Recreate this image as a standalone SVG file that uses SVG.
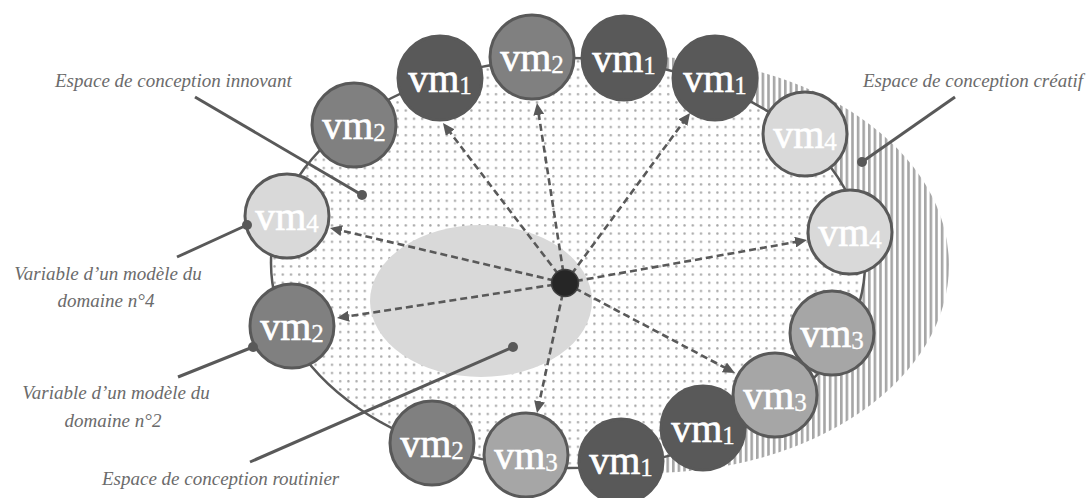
<svg xmlns="http://www.w3.org/2000/svg" width="1088" height="498" viewBox="0 0 1088 498">
<style>
.lbl{font-family:"Liberation Serif",serif;font-style:italic;font-size:19px;fill:#6b6b6b}
.vm{font-family:"Liberation Serif",serif;font-size:40px;fill:#ffffff;stroke:#ffffff;stroke-width:0.7;text-anchor:middle}
.sub{font-size:25px;stroke-width:0.3}
.nd{stroke:#595959;stroke-width:3}
.v1{fill:#595959}
.v2{fill:#808080}
.v3{fill:#a6a6a6}
.v4{fill:#d9d9d9}
.lead{stroke:#595959;stroke-width:3;fill:none}
.dot{fill:#595959}
.arr{stroke:#595959;stroke-width:2.6;stroke-dasharray:7 4;fill:none;marker-end:url(#ah)}
</style>
<defs>
<pattern id="dots" patternUnits="userSpaceOnUse" width="8.2" height="8.2">
<rect width="8.2" height="8.2" fill="#ffffff"/>
<circle cx="4" cy="4" r="1.2" fill="#a8a8a8"/>
</pattern>
<pattern id="stripes" patternUnits="userSpaceOnUse" width="5.6" height="10">
<rect width="5.6" height="10" fill="#ffffff"/>
<rect width="2.6" height="10" fill="#a6a6a6"/>
</pattern>
<marker id="ah" markerUnits="userSpaceOnUse" markerWidth="12" markerHeight="11" refX="4" refY="5.5" orient="auto">
<path d="M0,0 L12,5.5 L0,11 z" fill="#595959"/>
</marker>
</defs>

<g id="spaces">
<ellipse id="creatif" cx="648" cy="265" rx="301" ry="208" fill="url(#stripes)"/>
<ellipse id="innovant" cx="568" cy="263" rx="297" ry="205" fill="url(#dots)"/>
<ellipse id="routinier" cx="481" cy="301" rx="111" ry="76" fill="#d9d9d9"/>
<ellipse cx="568" cy="263" rx="297" ry="205" fill="none" stroke="#595959" stroke-width="2.5"/>
</g>

<g id="connectors">
<line class="arr" x1="565" y1="283" x2="447.8" y2="129.4"/>
<line class="arr" x1="565" y1="283" x2="538.2" y2="110.9"/>
<line class="arr" x1="565" y1="283" x2="685.3" y2="119.4"/>
<line class="arr" x1="565" y1="283" x2="799.1" y2="241.4"/>
<line class="arr" x1="565" y1="283" x2="727.9" y2="369.3"/>
<line class="arr" x1="565" y1="283" x2="538.7" y2="405.2"/>
<line class="arr" x1="565" y1="283" x2="344.9" y2="316.8"/>
<line class="arr" x1="565" y1="283" x2="337.8" y2="229.8"/>
</g>

<g id="centre"><circle cx="565" cy="283" r="13.5" fill="#262626" stroke="#404040" stroke-width="1.5"/></g>

<g id="n1"><circle class="nd v2" cx="354" cy="125" r="42"/><text class="vm" x="354" y="139">vm<tspan class="sub" dy="2">2</tspan></text></g>
<g id="n2"><circle class="nd v1" cx="440" cy="78" r="42"/><text class="vm" x="440" y="92">vm<tspan class="sub" dy="2">1</tspan></text></g>
<g id="n3"><circle class="nd v2" cx="532" cy="57" r="42"/><text class="vm" x="532" y="71">vm<tspan class="sub" dy="2">2</tspan></text></g>
<g id="n4"><circle class="nd v1" cx="624" cy="58" r="42"/><text class="vm" x="624" y="72">vm<tspan class="sub" dy="2">1</tspan></text></g>
<g id="n5"><circle class="nd v1" cx="715" cy="78" r="42"/><text class="vm" x="715" y="92">vm<tspan class="sub" dy="2">1</tspan></text></g>
<g id="n6"><circle class="nd v4" cx="805" cy="134" r="42"/><text class="vm" x="805" y="148">vm<tspan class="sub" dy="2">4</tspan></text></g>
<g id="n7"><circle class="nd v4" cx="850" cy="232" r="42"/><text class="vm" x="850" y="246">vm<tspan class="sub" dy="2">4</tspan></text></g>
<g id="n8"><circle class="nd v3" cx="832" cy="333" r="42"/><text class="vm" x="832" y="347">vm<tspan class="sub" dy="2">3</tspan></text></g>
<g id="n9"><circle class="nd v1" cx="703" cy="428" r="42"/><text class="vm" x="703" y="442">vm<tspan class="sub" dy="2">1</tspan></text></g>
<g id="n10"><circle class="nd v3" cx="775" cy="395" r="42"/><text class="vm" x="775" y="409">vm<tspan class="sub" dy="2">3</tspan></text></g>
<g id="n11"><circle class="nd v1" cx="621" cy="461" r="42"/><text class="vm" x="621" y="474">vm<tspan class="sub" dy="2">1</tspan></text></g>
<g id="n12"><circle class="nd v3" cx="526" cy="455" r="42"/><text class="vm" x="526" y="469">vm<tspan class="sub" dy="2">3</tspan></text></g>
<g id="n13"><circle class="nd v2" cx="432" cy="443" r="42"/><text class="vm" x="432" y="457">vm<tspan class="sub" dy="2">2</tspan></text></g>
<g id="n14"><circle class="nd v2" cx="292" cy="326" r="42"/><text class="vm" x="292" y="340">vm<tspan class="sub" dy="2">2</tspan></text></g>
<g id="n15"><circle class="nd v4" cx="287" cy="216" r="42"/><text class="vm" x="287" y="230">vm<tspan class="sub" dy="2">4</tspan></text></g>

<g id="label-innovant"><line class="lead" x1="195" y1="97" x2="362" y2="195"/><circle class="dot" cx="362" cy="195" r="5"/><text class="lbl" x="55" y="87">Espace de conception innovant</text></g>
<g id="label-creatif"><line class="lead" x1="955" y1="97" x2="862" y2="162"/><circle class="dot" cx="862" cy="162" r="5"/><text class="lbl" x="1083" y="87" text-anchor="end">Espace de conception créatif</text></g>
<g id="label-vm4"><line class="lead" x1="177" y1="257" x2="247" y2="225"/><circle class="dot" cx="247" cy="225" r="5"/><text class="lbl" text-anchor="middle"><tspan x="108" y="280">Variable d’un modèle du</tspan><tspan x="106" y="307">domaine n°4</tspan></text></g>
<g id="label-vm2"><line class="lead" x1="178" y1="377" x2="253" y2="347"/><circle class="dot" cx="253" cy="347" r="5"/><text class="lbl" text-anchor="middle"><tspan x="116" y="399">Variable d’un modèle du</tspan><tspan x="113" y="427">domaine n°2</tspan></text></g>
<g id="label-routinier"><line class="lead" x1="250" y1="462" x2="513" y2="347"/><circle class="dot" cx="513" cy="347" r="5"/><text class="lbl" x="102" y="485">Espace de conception routinier</text></g>
</svg>
